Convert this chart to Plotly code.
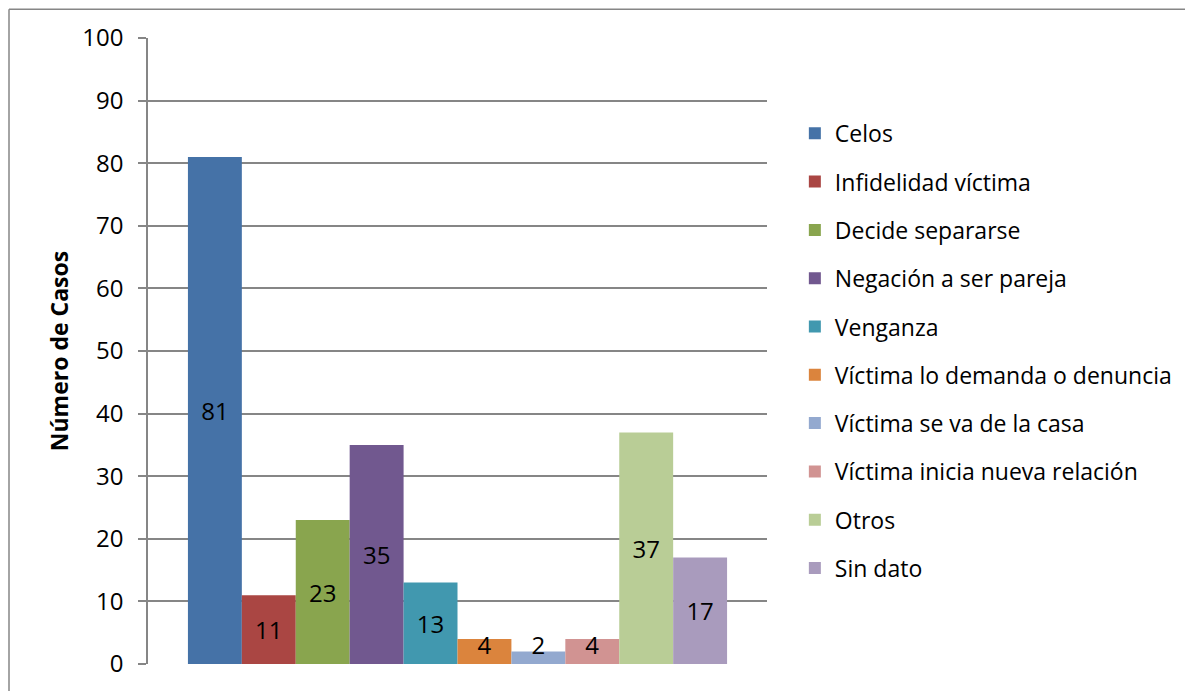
import plotly.graph_objects as go

categories = ["Celos", "Infidelidad víctima", "Decide separarse", "Negación a ser pareja",
              "Venganza", "Víctima lo demanda o denuncia", "Víctima se va de la casa",
              "Víctima inicia nueva relación", "Otros", "Sin dato"]
values = [81, 11, 23, 35, 13, 4, 2, 4, 37, 17]
colors = ["#4572A7", "#AA4643", "#89A54E", "#71588F", "#4198AF",
          "#DB843D", "#93A9CF", "#D19392", "#B9CD96", "#A99BBD"]
y_ticks = list(range(0, 101, 10))
y_title = "Número de Casos"

FONT = "Open Sans"
W, H = 1185, 683
L, R, T, B = 140, 426, 30, 24

fig = go.Figure()
for name, v, c in zip(categories, values, colors):
    fig.add_trace(go.Bar(
        x=[""], y=[v], name=name, legendgroup=name,
        marker=dict(color=c, line=dict(width=0)),
        text=[str(v)],
        textposition="inside",
        insidetextanchor="middle" if v >= 8 else "start",
        constraintext="none",
        textangle=0,
        textfont=dict(family=FONT, size=24, color="black"),
        cliponaxis=False,
    ))

pw = W - L - R
ph = H - T - B
bx = (1 - L) / pw
by = 1 + (T - 1) / ph

fig.update_layout(
    width=W, height=H,
    margin=dict(l=L, r=R, t=T, b=B),
    paper_bgcolor="white", plot_bgcolor="white",
    barmode="group", bargap=0.129, bargroupgap=0,
    font=dict(family=FONT, size=22, color="black"),
    showlegend=True,
    legend=dict(x=1.045, y=0.882, xanchor="left", yanchor="top",
                traceorder="grouped", tracegroupgap=15.4,
                font=dict(family=FONT, size=23, color="black"),
                bgcolor="rgba(0,0,0,0)"),
    xaxis=dict(showticklabels=False, showgrid=False, zeroline=False,
               showline=False, ticks=""),
    yaxis=dict(range=[0, 100], tickvals=y_ticks, showgrid=True,
               gridcolor="#868686", gridwidth=1.5,
               showline=True, linecolor="#868686", linewidth=1.5,
               ticks="outside", ticklen=8, tickcolor="#868686", tickwidth=1.5,
               ticklabelstandoff=10,
               zeroline=False,
               tickfont=dict(family=FONT, size=24, color="black"),
               title=dict(text="<b>" + y_title + "</b>", standoff=7,
                          font=dict(family=FONT, size=23, color="black"))),
    shapes=[
        dict(type="line", xref="paper", yref="paper", x0=bx, x1=bx, y0=-0.2, y1=by,
             line=dict(color="#868686", width=1.5)),
        dict(type="line", xref="paper", yref="paper", x0=bx, x1=2.0, y0=by, y1=by,
             line=dict(color="#868686", width=1.5)),
    ],
)

fig.write_html("out.html")
